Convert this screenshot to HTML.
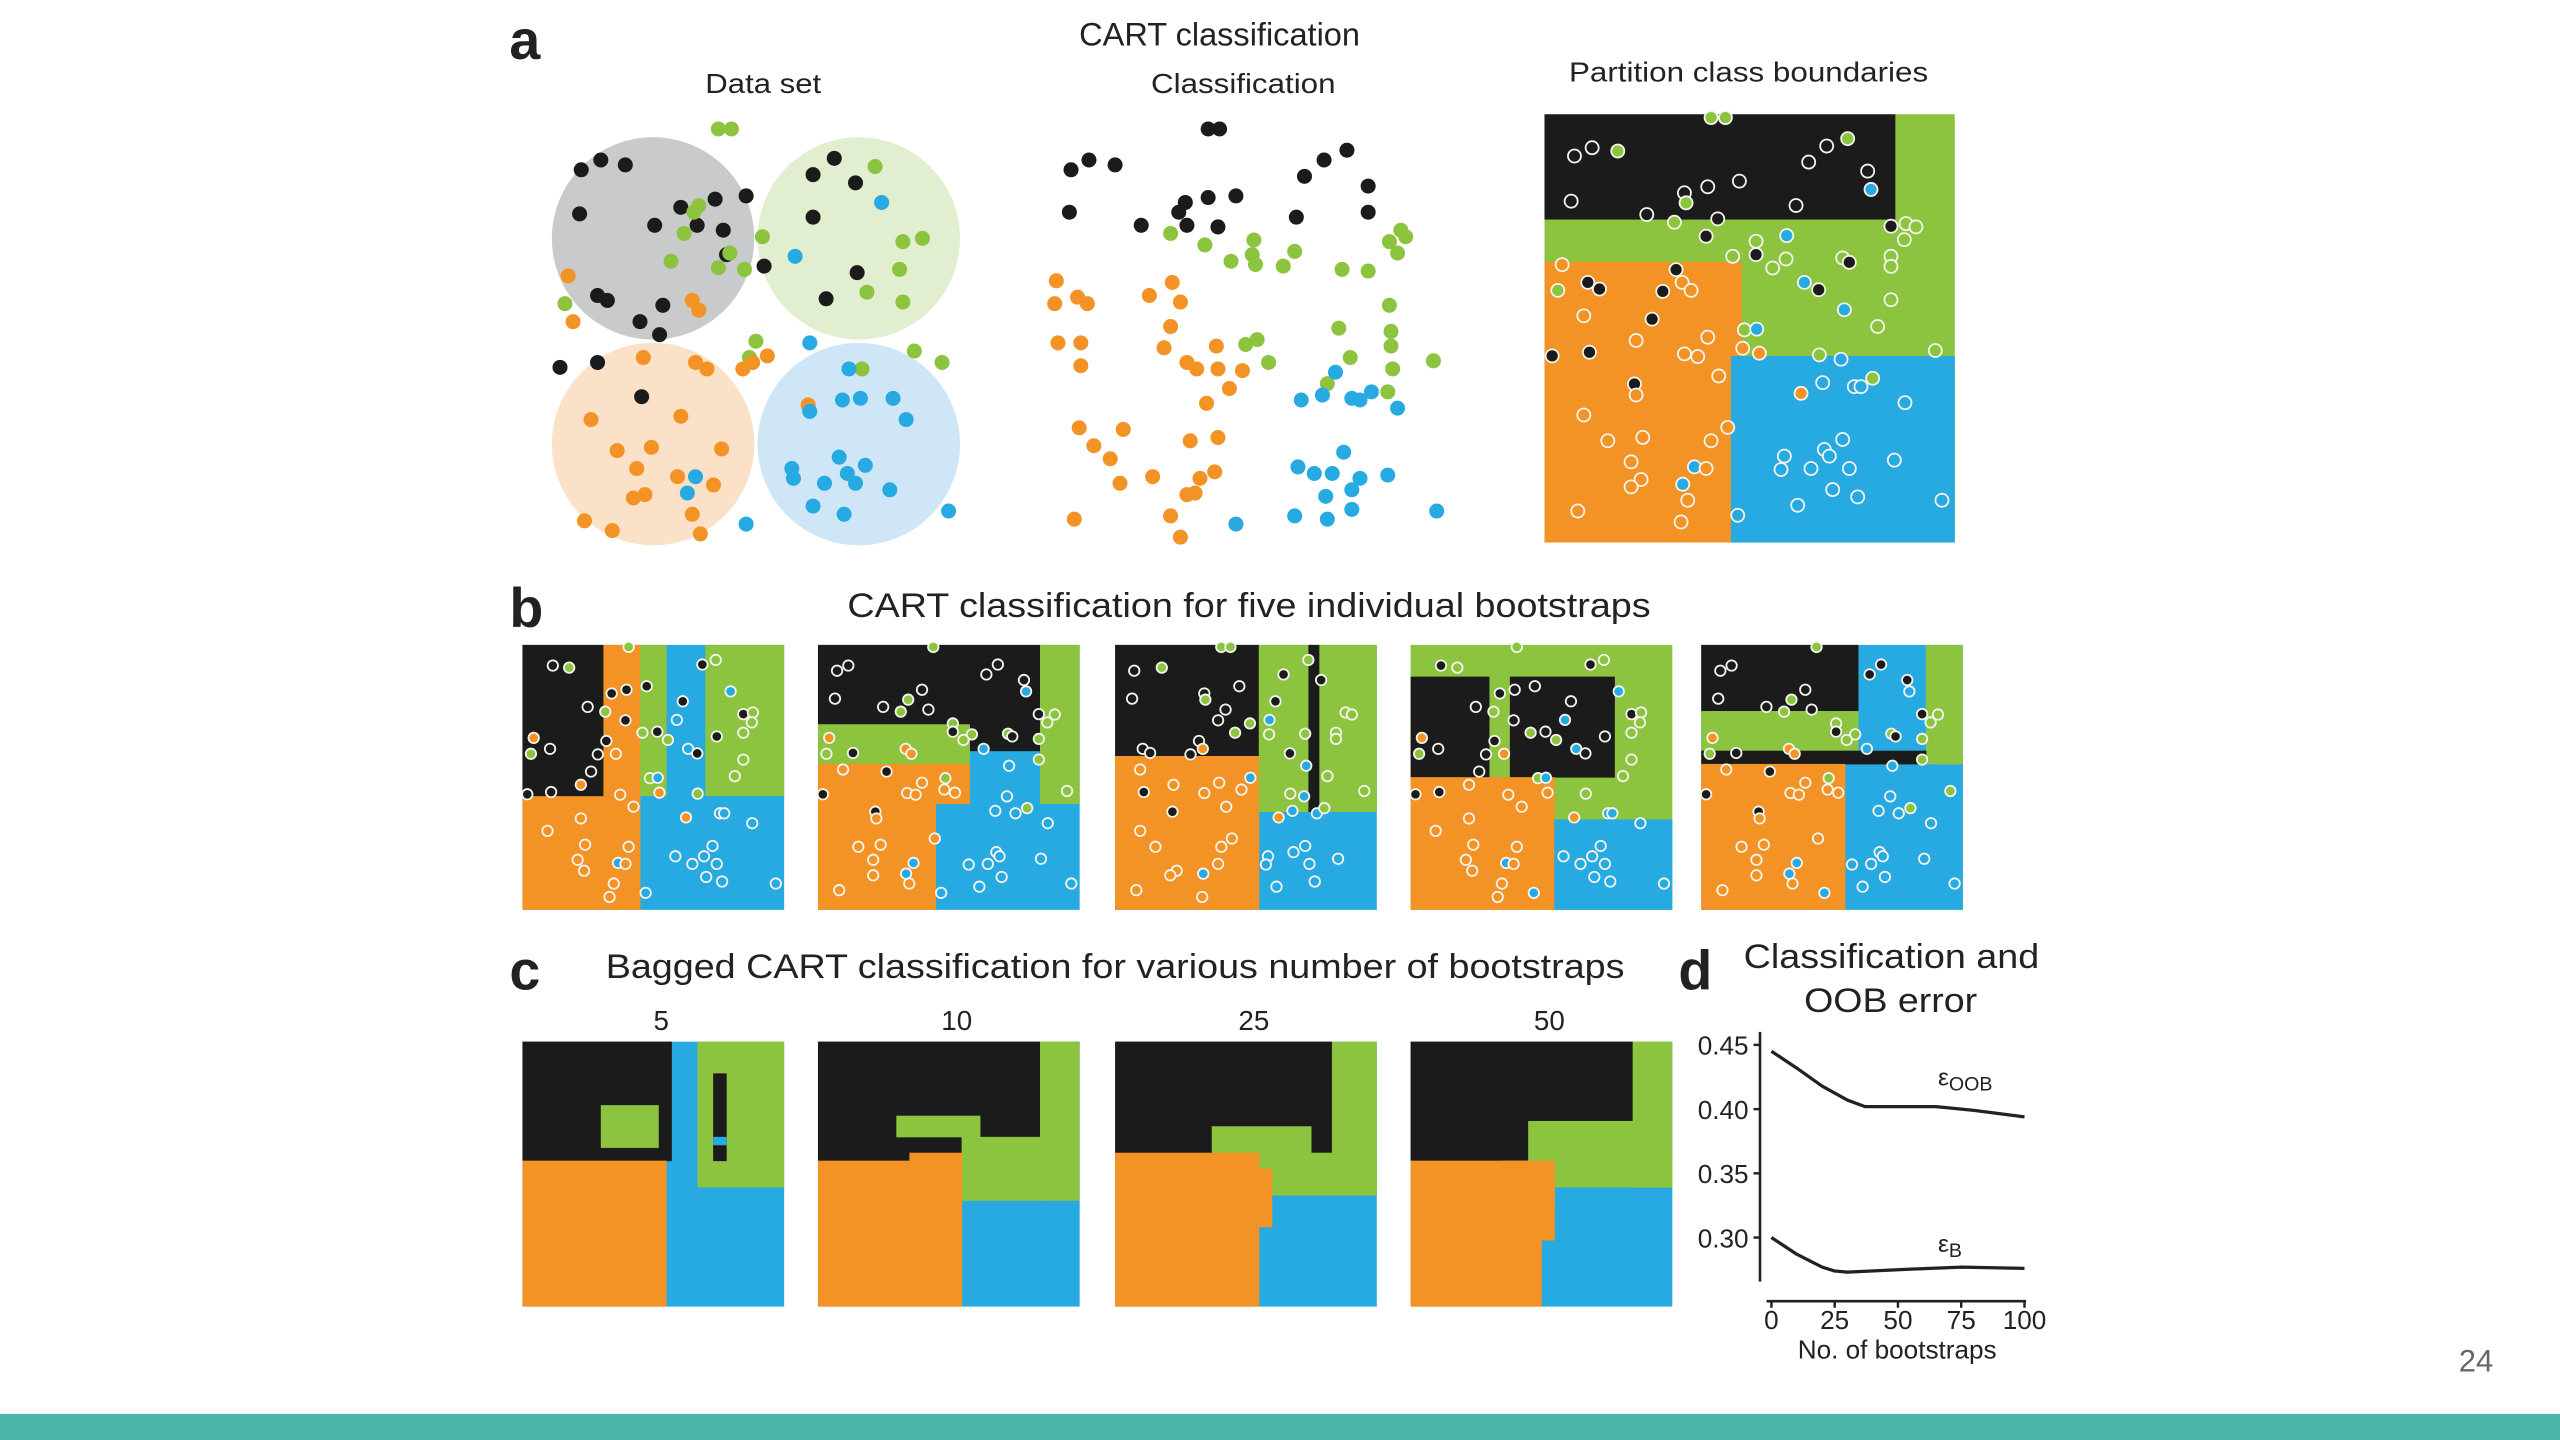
<!DOCTYPE html>
<html><head><meta charset="utf-8"><style>
html,body{margin:0;padding:0;background:#fff;}
svg{display:block;font-family:"Liberation Sans",sans-serif;}
</style></head><body>
<svg id="fig" width="2560" height="1440" viewBox="0 0 1568 882" preserveAspectRatio="none" xmlns="http://www.w3.org/2000/svg">
<rect width="1568" height="882" fill="#fff"/>
<g id="texts" fill="#222">
<text x="312" y="36" font-size="34" font-weight="bold">a</text>
<text x="312" y="384" font-size="34" font-weight="bold">b</text>
<text x="312" y="606" font-size="34" font-weight="bold">c</text>
<text x="1028" y="606" font-size="34" font-weight="bold">d</text>
<text x="661" y="28" font-size="20" textLength="172" lengthAdjust="spacingAndGlyphs">CART classification</text>
<text x="432" y="57" font-size="17" textLength="71" lengthAdjust="spacingAndGlyphs">Data set</text>
<text x="705" y="57" font-size="17" textLength="113" lengthAdjust="spacingAndGlyphs">Classification</text>
<text x="961" y="50" font-size="17" textLength="220" lengthAdjust="spacingAndGlyphs">Partition class boundaries</text>
<text x="519" y="378" font-size="21" textLength="492" lengthAdjust="spacingAndGlyphs">CART classification for five individual bootstraps</text>
<text x="371" y="599" font-size="21" textLength="624" lengthAdjust="spacingAndGlyphs">Bagged CART classification for various number of bootstraps</text>
<text x="1068" y="593" font-size="21" textLength="181" lengthAdjust="spacingAndGlyphs">Classification and</text>
<text x="1105" y="620" font-size="21" textLength="106" lengthAdjust="spacingAndGlyphs">OOB error</text>
<text x="1506" y="840" font-size="19" fill="#666">24</text>
</g>
<rect x="0" y="866" width="1568" height="16" fill="#4cb5a9"/>
<g id="layer"></g>
</svg>
<script>
const C={k:'#1b1b1b',g:'#8cc43f',o:'#f39325',b:'#27aae1'};
const dataPts=[[356,104,'k'],[368,98,'k'],[383,101,'k'],[355,131,'k'],[401,138,'k'],[417,127,'k'],[427,138,'k'],[438,122,'k'],[443,141,'k'],[445,156,'k'],[457,120,'k'],[366,181,'k'],[372,184,'k'],[392,197,'k'],[406,187,'k'],[404,205,'k'],[498,107,'k'],[511,97,'k'],[524,112,'k'],[498,133,'k'],[525,167,'k'],[506,183,'k'],[468,163,'k'],[343,225,'k'],[366,222,'k'],[393,243,'k'],
[440,79,'g'],[448,79,'g'],[425,130,'g'],[419,143,'g'],[428,126,'g'],[411,160,'g'],[467,145,'g'],[440,164,'g'],[456,165,'g'],[346,186,'g'],[553,148,'g'],[565,146,'g'],[551,165,'g'],[553,185,'g'],[536,102,'g'],[560,215,'g'],[577,222,'g'],[528,226,'g'],[531,179,'g'],[463,209,'g'],[459,219,'g'],[447,155,'g'],
[348,169,'o'],[351,197,'o'],[424,184,'o'],[428,190,'o'],[394,219,'o'],[433,226,'o'],[426,222,'o'],[455,226,'o'],[461,222,'o'],[470,218,'o'],[362,257,'o'],[378,276,'o'],[399,274,'o'],[395,303,'o'],[390,287,'o'],[415,292,'o'],[388,305,'o'],[375,325,'o'],[429,327,'o'],[424,315,'o'],[442,275,'o'],[437,297,'o'],[358,319,'o'],[417,255,'o'],[495,248,'o'],
[487,157,'b'],[540,124,'b'],[496,210,'b'],[520,226,'b'],[516,245,'b'],[527,244,'b'],[547,244,'b'],[496,252,'b'],[555,257,'b'],[485,287,'b'],[514,280,'b'],[519,290,'b'],[505,296,'b'],[524,296,'b'],[530,285,'b'],[498,310,'b'],[517,315,'b'],[545,300,'b'],[457,321,'b'],[581,313,'b'],[421,302,'b'],[426,292,'b'],[486,293,'b']];
const classPts=[[656,104,'k'],[667,98,'k'],[683,101,'k'],[655,130,'k'],[699,138,'k'],[722,130,'k'],[727,138,'k'],[726,124,'k'],[740,121,'k'],[757,120,'k'],[746,139,'k'],[794,133,'k'],[799,108,'k'],[811,98,'k'],[825,92,'k'],[838,114,'k'],[838,130,'k'],[740,79,'k'],[747,79,'k'],
[717,143,'g'],[738,150,'g'],[754,160,'g'],[767,156,'g'],[769,162,'g'],[768,147,'g'],[786,163,'g'],[793,154,'g'],[822,165,'g'],[838,166,'g'],[851,148,'g'],[861,145,'g'],[856,155,'g'],[858,141,'g'],[851,187,'g'],[852,203,'g'],[852,212,'g'],[853,226,'g'],[850,240,'g'],[763,211,'g'],[770,208,'g'],[777,222,'g'],[813,235,'g'],[820,201,'g'],[827,219,'g'],[878,221,'g'],
[647,172,'o'],[646,186,'o'],[660,182,'o'],[666,186,'o'],[648,210,'o'],[662,210,'o'],[662,224,'o'],[704,181,'o'],[718,173,'o'],[723,185,'o'],[717,200,'o'],[713,213,'o'],[745,212,'o'],[733,226,'o'],[746,226,'o'],[727,222,'o'],[661,262,'o'],[670,273,'o'],[680,281,'o'],[686,296,'o'],[706,292,'o'],[688,263,'o'],[729,270,'o'],[746,268,'o'],[732,302,'o'],[744,289,'o'],[717,316,'o'],[727,303,'o'],[735,293,'o'],[658,318,'o'],[723,329,'o'],[753,238,'o'],[739,247,'o'],[761,227,'o'],
[797,245,'b'],[810,242,'b'],[818,228,'b'],[828,244,'b'],[833,245,'b'],[840,240,'b'],[856,250,'b'],[795,286,'b'],[805,290,'b'],[823,277,'b'],[816,290,'b'],[833,293,'b'],[812,304,'b'],[828,300,'b'],[850,291,'b'],[793,316,'b'],[813,318,'b'],[828,312,'b'],[880,313,'b'],[757,321,'b']];
const rings=[[105,170,'k'],[158,145,'k'],[235,155,'g'],[95,305,'k'],[322,345,'k'],[435,280,'k'],[440,310,'g'],[505,262,'k'],[600,245,'k'],[535,358,'k'],[405,368,'g'],[770,318,'k'],[808,188,'k'],[862,140,'k'],[925,118,'g'],[985,215,'k'],[995,270,'b'],[515,55,'g'],[558,55,'g'],[1055,380,'k'],[1100,372,'g'],[1130,382,'g'],[1095,420,'g'],[500,410,'k'],[650,425,'g'],[650,465,'k'],[742,408,'b'],[740,478,'g'],[700,505,'g'],[580,470,'g'],[910,475,'g'],[930,488,'k'],[1055,470,'g'],[1055,500,'g'],[795,548,'b'],[838,570,'k'],[915,630,'b'],[1055,600,'g'],[1015,680,'g'],[1188,752,'g'],[615,690,'g'],[652,688,'b'],[610,745,'o'],[660,760,'o'],[840,765,'g'],[905,778,'b'],[68,495,'o'],[145,548,'k'],[180,568,'k'],[55,572,'g'],[410,510,'k'],[428,548,'o'],[455,572,'o'],[370,575,'k'],[133,648,'o'],[338,658,'k'],[290,722,'o'],[505,712,'o'],[38,768,'k'],[150,757,'k'],[435,762,'o'],[475,770,'o'],[538,828,'o'],[285,852,'k'],[290,885,'o'],[133,945,'o'],[205,1022,'o'],[310,1012,'o'],[515,1022,'o'],[565,982,'o'],[275,1085,'o'],[305,1138,'o'],[275,1160,'o'],[465,1100,'b'],[500,1105,'o'],[430,1152,'b'],[445,1200,'o'],[425,1265,'o'],[115,1232,'o'],[595,1245,'b'],[785,880,'o'],[850,848,'b'],[945,860,'b'],[965,860,'b'],[1000,835,'g'],[1097,908,'b'],[910,1018,'b'],[855,1048,'b'],[870,1068,'b'],[735,1068,'b'],[725,1108,'b'],[815,1105,'b'],[930,1105,'b'],[1065,1080,'b'],[880,1168,'b'],[955,1190,'b'],[775,1215,'b'],[1208,1200,'b']];
const partRegions=[['g',0,0,1,1],['k',0,0,0.855,0.245],['o',0,0.345,0.48,1],['b',0.455,0.565,1,1]];
const bRegions=[
[['b',0,0,1,1],['o',0,0.57,0.45,1],['k',0,0,0.31,0.57],['o',0.31,0,0.45,0.57],['g',0.45,0,0.55,0.57],['g',0.7,0,1,0.57]],
[['b',0,0,1,1],['k',0,0,0.85,0.3],['k',0.58,0.3,0.85,0.4],['g',0,0.3,0.58,0.45],['g',0.85,0,1,0.6],['o',0,0.45,0.58,0.6],['o',0,0.6,0.45,1]],
[['b',0,0,1,1],['k',0,0,0.55,0.42],['o',0,0.42,0.55,1],['g',0.55,0,1,0.63],['k',0.74,0,0.78,0.63]],
[['g',0,0,1,1],['k',0,0.12,0.3,0.5],['k',0.38,0.12,0.78,0.5],['o',0,0.5,0.55,1],['b',0.55,0.66,1,1]],
[['b',0,0,1,1],['k',0,0,0.6,0.25],['g',0.86,0,1,0.45],['g',0,0.25,0.6,0.4],['k',0,0.4,0.86,0.45],['o',0,0.45,0.55,1]]];
const cRegions=[
[['b',0,0,1,1],['k',0,0,0.57,0.45],['g',0.3,0.24,0.52,0.4],['o',0,0.45,0.55,1],['g',0.67,0,1,0.55],['k',0.73,0.12,0.78,0.45],['b',0.73,0.36,0.78,0.39]],
[['b',0,0,1,1],['k',0,0,0.85,0.45],['g',0.85,0,1,0.6],['g',0.3,0.28,0.62,0.36],['g',0.55,0.36,0.85,0.6],['o',0,0.45,0.55,1],['o',0.35,0.42,0.55,0.45]],
[['b',0,0,1,1],['k',0,0,0.83,0.42],['g',0.83,0,1,0.55],['g',0.37,0.32,0.75,0.42],['g',0.55,0.42,1,0.58],['o',0,0.42,0.55,1],['o',0.55,0.48,0.6,0.7]],
[['b',0,0,1,1],['k',0,0,0.85,0.45],['g',0.85,0,1,0.55],['g',0.45,0.3,0.85,0.45],['g',0.5,0.45,1,0.55],['o',0,0.45,0.5,1],['o',0.35,0.45,0.55,0.65],['o',0.5,0.55,0.55,0.75]]];
const bPanelsX=[320,501,683,864,1042], bW=160, bY=395, bH=162;
const cPanelsX=[320,501,683,864], cY=638, cH=162;
const cLabels=['5','10','25','50'];
const xTicks=[0,25,50,75,100];
const yTicks=[0.30,0.35,0.40,0.45];
const oobX=[0,10,20,30,37,50,65,80,100];
const oobY=[0.445,0.432,0.418,0.407,0.402,0.402,0.402,0.399,0.394];
const bX=[0,10,20,25,30,50,75,100];
const bY2=[0.300,0.287,0.277,0.274,0.273,0.275,0.277,0.276];

const NS='http://www.w3.org/2000/svg';
const L=document.getElementById('layer');
function mk(tag,attrs,parent){const e=document.createElementNS(NS,tag);for(const k in attrs)e.setAttribute(k,attrs[k]);(parent||L).appendChild(e);return e;}

const bg=[[400,146,'#c8cacb'],[526,146,'#e2eed0'],[400,272,'#fbe1c8'],[526,272,'#cfe6f6']];
bg.forEach(b=>{const e=mk('circle',{cx:b[0],cy:b[1],r:62,fill:b[2]});

});
dataPts.forEach(p=>{const e=mk('circle',{cx:p[0],cy:p[1],r:4.6,fill:C[p[2]]});

});
classPts.forEach(p=>{const e=mk('circle',{cx:p[0],cy:p[1],r:4.6,fill:C[p[2]]});

});

function drawPanel(x,y,w,h,regions,name,ringSel,rr){
  const g=mk('g',{});
  
  
  regions.forEach(r=>{const e=mk('rect',{x:x+r[1]*w,y:y+r[2]*h,width:(r[3]-r[1])*w+0.3,height:(r[4]-r[2])*h+0.3,fill:C[r[0]]},g);
  
  });
  if(ringSel){rings.forEach((p,i)=>{if(!ringSel(i))return;
    const e=mk('circle',{cx:x+(p[0]-15)/1230*w,cy:y+(p[1]-45)/1280*h,r:rr,fill:C[p[2]],stroke:'#f4f4ee','stroke-width':1.1},g);
    
    });}
}
drawPanel(946,70,251,262,partRegions,'partition-panel',()=>true,4);
bPanelsX.forEach((x,k)=>drawPanel(x,bY,bW,bH,bRegions[k],'bootstrap-panel-'+(k+1),i=>(i+k)%3!==0,3.2));
cPanelsX.forEach((x,k)=>{drawPanel(x,cY,bW,cH,cRegions[k],'bagged-panel-'+cLabels[k],null,0);
  const t=mk('text',{x:x+bW/2+5,y:631,'font-size':17,'text-anchor':'middle',fill:'#222'});t.textContent=cLabels[k];
  
  });

const sx=v=>1085+v/100*155;
const sy=v=>640+(0.45-v)/0.15*118;
const ax=mk('line',{x1:1078,y1:632,x2:1078,y2:785,stroke:'#222','stroke-width':1.6});


yTicks.forEach(v=>{const tk=mk('line',{x1:1074,y1:sy(v),x2:1078,y2:sy(v),stroke:'#222','stroke-width':1.5});


const t=mk('text',{x:1071,y:sy(v)+6,'font-size':16,'text-anchor':'end',fill:'#222'});t.textContent=v.toFixed(2);

});
const xa=mk('line',{x1:1082,y1:797,x2:1241,y2:797,stroke:'#222','stroke-width':1.6});


xTicks.forEach(v=>{const tk=mk('line',{x1:sx(v),y1:797,x2:sx(v),y2:801,stroke:'#222','stroke-width':1.5});


const t=mk('text',{x:sx(v),y:814,'font-size':16,'text-anchor':'middle',fill:'#222'});t.textContent=v;

});
const xt=mk('text',{x:1162,y:832,'font-size':16,'text-anchor':'middle',fill:'#222'});xt.textContent='No. of bootstraps';


function line(xs,ys,name){const d=xs.map((v,i)=>(i?'L':'M')+sx(v).toFixed(1)+','+sy(ys[i]).toFixed(1)).join('');
const e=mk('path',{d:d,fill:'none',stroke:'#222','stroke-width':2,'stroke-linejoin':'round'});

}
line(oobX,oobY,'oob-error-line');
line(bX,bY2,'bagging-error-line');
const l1=mk('text',{x:1187,y:665,'font-size':15,fill:'#222'});l1.innerHTML='ε<tspan font-size="12" dy="3">OOB</tspan>';


const l2=mk('text',{x:1187,y:767,'font-size':15,fill:'#222'});l2.innerHTML='ε<tspan font-size="12" dy="3">B</tspan>';


</script>
</body></html>
